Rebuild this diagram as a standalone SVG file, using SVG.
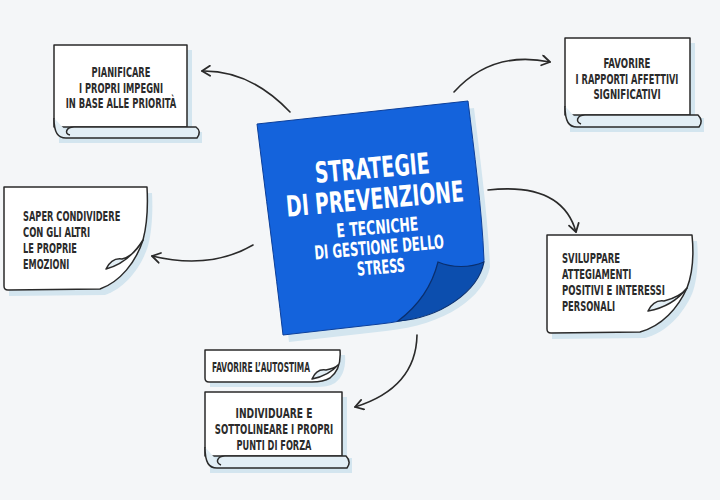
<svg xmlns="http://www.w3.org/2000/svg" width="720" height="500" viewBox="0 0 720 500">
<defs>
<style>
.bg{fill:#f4f6f8}
.page{fill:#ffffff;stroke:#2a2a2a;stroke-width:1.5;stroke-linejoin:round}
.roll{fill:#e2eef5;stroke:#2a2a2a;stroke-width:1.5;stroke-linejoin:round}
.shadow{fill:#d3e5ef}
.t{font-family:"Liberation Sans Narrow","DejaVu Sans Condensed","Liberation Sans",sans-serif;font-weight:bold;font-size:14px;fill:#2b2b2b}
.c{text-anchor:middle}
.w{font-family:"Liberation Sans Narrow","DejaVu Sans Condensed","Liberation Sans",sans-serif;font-weight:bold;fill:#ffffff;text-anchor:middle}
.conn{fill:none;stroke:#2a2a2a;stroke-width:1.6;stroke-linecap:round}
</style>
<marker id="arr" markerUnits="userSpaceOnUse" markerWidth="14" markerHeight="14" refX="10" refY="6" orient="auto">
<path d="M2,1 L10,6 L2,11" fill="none" stroke="#2a2a2a" stroke-width="1.8" stroke-linecap="round" stroke-linejoin="round"/>
</marker>
</defs>
<rect class="bg" x="0" y="0" width="720" height="500"/>

<g id="connectors">
<path class="conn" d="M290,112 Q250,70 202,71" marker-end="url(#arr)"/>
<path class="conn" d="M454,92 Q492,50 550,62" marker-end="url(#arr)"/>
<path class="conn" d="M488,190 Q562,182 576,232" marker-end="url(#arr)"/>
<path class="conn" d="M253,245 Q210,270 152,256" marker-end="url(#arr)"/>
<path class="conn" d="M417,335 Q416,388 355,407" marker-end="url(#arr)"/>
</g>

<g id="center">
<path class="shadow" d="M263,131 L474,108 C480,157 488,217 490,267 C484,297 446,325 386,331 L289,342 C281,272 271,197 263,131 Z"/>
<path d="M257,124 L468,101 C474,150 482,210 484,260 C478,290 440,318 380,324 L283,335 C275,265 265,190 257,124 Z" fill="#1463dc" stroke="#0c3f9a" stroke-width="1"/>
<path d="M438,262 C452,268 470,268 484,262 C478,292 440,318 398,321 C418,306 432,286 438,262 Z" fill="#0c4eae" stroke="#0a2f6e" stroke-width="1.2"/>
<g transform="translate(375,200) rotate(-5)">
<text class="w" x="0" y="-22" font-size="29" textLength="115" lengthAdjust="spacingAndGlyphs">STRATEGIE</text>
<text class="w" x="0" y="9" font-size="29" textLength="178" lengthAdjust="spacingAndGlyphs">DI PREVENZIONE</text>
<text class="w" x="0" y="34" font-size="19" textLength="82" lengthAdjust="spacingAndGlyphs">E TECNICHE</text>
<text class="w" x="0" y="54" font-size="19" textLength="130" lengthAdjust="spacingAndGlyphs">DI GESTIONE DELLO</text>
<text class="w" x="0" y="74" font-size="19" textLength="48" lengthAdjust="spacingAndGlyphs">STRESS</text>
</g>
</g>

<g id="node-pianificare">
<path class="shadow" d="M59,50 L192,50 L192,132 L202,132 L202,143 L59,143 Z"/>
<path class="page" d="M54,45 L187,45 L187,127 L54,127 Z"/>
<path class="roll" d="M54,118 C54,133 58,138 66,138 L197,138 C200,134 200,130 196,127 L74,127 C66,127 64,134 70,135"/>
<g transform="translate(121,0) scale(0.7,1)">
<text class="t c" x="0" y="77" textLength="84" lengthAdjust="spacingAndGlyphs">PIANIFICARE</text>
<text class="t c" x="0" y="93" textLength="120" lengthAdjust="spacingAndGlyphs">I PROPRI IMPEGNI</text>
<text class="t c" x="0" y="108" textLength="158" lengthAdjust="spacingAndGlyphs">IN BASE ALLE PRIORITÀ</text>
</g>
</g>

<g id="node-rapporti">
<path class="shadow" d="M570,43 L695,43 L695,118 L704,118 L704,132 L570,132 Z"/>
<path class="page" d="M565,38 L690,38 L690,115 L565,115 Z"/>
<path class="roll" d="M565,106 C565,122 569,127 577,127 L699,127 C702,123 702,119 698,115 L585,115 C577,115 575,122 581,124"/>
<g transform="translate(627,0) scale(0.7,1)">
<text class="t c" x="0" y="68" textLength="67" lengthAdjust="spacingAndGlyphs">FAVORIRE</text>
<text class="t c" x="0" y="84" textLength="147" lengthAdjust="spacingAndGlyphs">I RAPPORTI AFFETTIVI</text>
<text class="t c" x="0" y="99" textLength="96" lengthAdjust="spacingAndGlyphs">SIGNIFICATIVI</text>
</g>
</g>

<g id="node-condividere">
<path class="shadow" d="M9,193 L152,193 C153,211 152,231 148,246 C141,268 125,288 105,295 L9,296 Z"/>
<path class="page" d="M4,187 L147,187 C148,205 147,225 143,240 C136,262 120,282 100,289 L8,290 Q4,290 4,286 Z"/>
<path class="roll" d="M143,240 C133,256 121,265 106,269 C110,261 116,258 122,259 C130,257 137,251 143,240 Z"/>
<g transform="translate(23,0) scale(0.7,1)">
<text class="t" x="0" y="221" textLength="139" lengthAdjust="spacingAndGlyphs">SAPER CONDIVIDERE</text>
<text class="t" x="0" y="237" textLength="96" lengthAdjust="spacingAndGlyphs">CON GLI ALTRI</text>
<text class="t" x="0" y="253" textLength="77" lengthAdjust="spacingAndGlyphs">LE PROPRIE</text>
<text class="t" x="0" y="269" textLength="66" lengthAdjust="spacingAndGlyphs">EMOZIONI</text>
</g>
</g>

<g id="node-sviluppare">
<path class="shadow" d="M552,241 L697,241 C699,261 697,281 692,294 C683,314 667,332 645,338 L552,339 Z"/>
<path class="page" d="M547,235 L692,235 C694,255 692,275 687,288 C678,308 662,326 640,332 L551,333 Q547,333 547,329 Z"/>
<path class="roll" d="M687,288 C677,301 665,308 648,311 C652,303 657,300 664,301 C672,299 681,296 687,288 Z"/>
<g transform="translate(562,0) scale(0.7,1)">
<text class="t" x="0" y="263" textLength="83" lengthAdjust="spacingAndGlyphs">SVILUPPARE</text>
<text class="t" x="0" y="279" textLength="99" lengthAdjust="spacingAndGlyphs">ATTEGIAMENTI</text>
<text class="t" x="0" y="295" textLength="147" lengthAdjust="spacingAndGlyphs">POSITIVI E INTERESSI</text>
<text class="t" x="0" y="311" textLength="76" lengthAdjust="spacingAndGlyphs">PERSONALI</text>
</g>
</g>

<g id="node-autostima">
<path class="shadow" d="M210,355 L345,355 C346,367 343,377 335,383 C330,386 323,387 317,387 L210,387 Z"/>
<path class="page" d="M205,350 L340,350 C341,362 338,372 330,378 C325,381 318,382 312,382 L209,382 Q205,382 205,378 Z"/>
<path class="roll" d="M338,365 C331,373 322,377 312,379 C315,372 320,369 326,370 C331,369 335,368 338,365 Z"/>
<g transform="translate(212,0) scale(0.7,1)">
<text class="t" x="0" y="372" textLength="140" lengthAdjust="spacingAndGlyphs">FAVORIRE L’AUTOSTIMA</text>
</g>
</g>

<g id="node-punti">
<path class="shadow" d="M210,397 L347,397 L347,458 L352,458 L352,473 L210,473 Z"/>
<path class="page" d="M205,392 L342,392 L342,456 L205,456 Z"/>
<path class="roll" d="M205,447 C205,463 209,468 217,468 L347,468 C350,464 350,460 346,456 L225,456 C217,456 215,463 221,465"/>
<g transform="translate(274,0) scale(0.7,1)">
<text class="t c" x="0" y="418" textLength="110" lengthAdjust="spacingAndGlyphs">INDIVIDUARE E</text>
<text class="t c" x="0" y="434" textLength="169" lengthAdjust="spacingAndGlyphs">SOTTOLINEARE I PROPRI</text>
<text class="t c" x="0" y="450" textLength="107" lengthAdjust="spacingAndGlyphs">PUNTI DI FORZA</text>
</g>
</g>
</svg>
